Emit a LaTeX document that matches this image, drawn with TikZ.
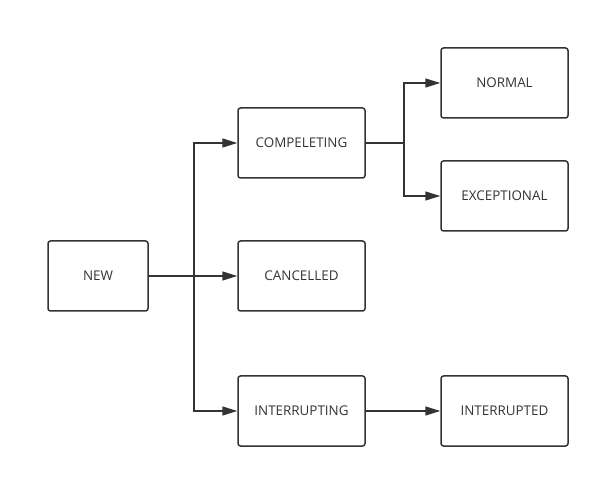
\documentclass[tikz,border=0pt]{standalone}
\usepackage{fontspec}
\setmainfont{Open Sans}
\usetikzlibrary{arrows.meta}
\definecolor{ink}{HTML}{333333}
\begin{document}
\begin{tikzpicture}[x=1pt,y=-1pt,
  state/.style={draw=ink, line width=1.5pt, rounded corners=2.5pt, minimum width=127pt, minimum height=70pt, inner sep=0pt, text=ink, font=\fontsize{13.4}{15}\selectfont},
  conn/.style={draw=ink, line width=1.5pt, -{Triangle[length=15pt,width=9pt]}}]
\useasboundingbox (0,0) rectangle (600,478);
\node[state, minimum width=100pt] (new) at (98,276) {NEW};
\node[state] (comp) at (301.5,143) {COMPELETING};
\node[state] (canc) at (301.5,276) {CANCELLED};
\node[state] (intg) at (301.5,411) {INTERRUPTING};
\node[state] (norm) at (504.5,83) {NORMAL};
\node[state] (exc) at (504.5,196) {EXCEPTIONAL};
\node[state] (intd) at (504.5,411) {INTERRUPTED};
\draw[conn] (new.east) -- (canc.west);
\draw[conn] (new.east) -- ++(45,0) |- (comp.west);
\draw[conn] (new.east) -- ++(45,0) |- (intg.west);
\draw[conn] (comp.east) -- ++(38,0) |- (norm.west);
\draw[conn] (comp.east) -- ++(38,0) |- (exc.west);
\draw[conn] (intg.east) -- (intd.west);
\end{tikzpicture}
\end{document}
